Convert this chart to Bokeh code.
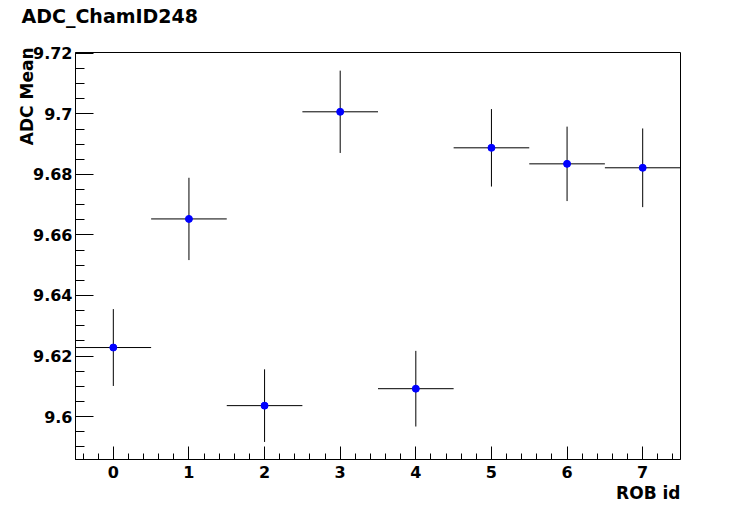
from bokeh.plotting import figure
from bokeh.models import (Title, Range1d, SingleIntervalTicker,
                          NumeralTickFormatter, ColumnDataSource)
from bokeh.embed import file_html
from bokeh.resources import INLINE

# ---- data ----
rob_id = [0, 1, 2, 3, 4, 5, 6, 7]
adc_mean = [9.6228, 9.6653, 9.6036, 9.7007, 9.6092, 9.6888, 9.6835, 9.6822]
adc_err = [0.0127, 0.0136, 0.0120, 0.0136, 0.0125, 0.0128, 0.0123, 0.0130]
bin_half_width = [0.5, 0.5, 0.5, 0.5, 0.5, 0.5, 0.5, 0.5]

title_text = "ADC_ChamID248"
x_label = "ROB id"
y_label = "ADC Mean"

FONT = "DejaVu Sans"

src = ColumnDataSource(dict(
    x=rob_id,
    y=adc_mean,
    x0=[x - h for x, h in zip(rob_id, bin_half_width)],
    x1=[x + h for x, h in zip(rob_id, bin_half_width)],
    y0=[y - e for y, e in zip(adc_mean, adc_err)],
    y1=[y + e for y, e in zip(adc_mean, adc_err)],
))

p = figure(width=740, height=505, output_backend="svg", toolbar_location=None,
           title=None,
           x_range=Range1d(-0.5, 7.5), y_range=Range1d(9.5858, 9.7203),
           min_border_left=75, min_border_right=60,
           min_border_top=52, min_border_bottom=46)

p.background_fill_color = "white"
p.border_fill_color = "white"
p.outline_line_color = "black"
p.outline_line_width = 1
p.xgrid.grid_line_color = None
p.ygrid.grid_line_color = None

# x axis
p.xaxis.ticker = SingleIntervalTicker(interval=1, num_minor_ticks=5)
p.xaxis.major_tick_in = 13
p.xaxis.major_tick_out = 0
p.xaxis.minor_tick_in = 6
p.xaxis.minor_tick_out = 0
p.xaxis.major_label_standoff = 6

# y axis
p.yaxis.ticker = SingleIntervalTicker(interval=0.02, num_minor_ticks=4)
p.yaxis.formatter = NumeralTickFormatter(format="0.0[0]")
p.yaxis.major_tick_in = 18
p.yaxis.major_tick_out = 0
p.yaxis.minor_tick_in = 9
p.yaxis.minor_tick_out = 0
p.yaxis.major_label_standoff = 3

for ax in (p.xaxis, p.yaxis):
    ax.axis_line_color = "black"
    ax.major_tick_line_color = "black"
    ax.minor_tick_line_color = "black"
    ax.major_label_text_font = FONT
    ax.major_label_text_font_style = "bold"
    ax.major_label_text_font_size = "16px"
    ax.major_label_text_color = "black"

# error bars
p.segment(x0="x0", y0="y", x1="x1", y1="y", source=src, line_color="black", line_width=1)
p.segment(x0="x", y0="y0", x1="x", y1="y1", source=src, line_color="black", line_width=1)
# markers
p.scatter(x="x", y="y", source=src, marker="circle", size=7,
          fill_color="#0000ff", line_color="#0000ff")

# texts as titles in the side panels (an empty spacer lifts the main title)
p.add_layout(Title(text=" ", standoff=0, text_font=FONT, text_font_size="19px"), "above")
p.add_layout(Title(text=title_text, align="left", offset=-54, standoff=4,
                   text_font=FONT, text_font_style="bold", text_font_size="19px",
                   text_color="black"), "above")
p.add_layout(Title(text=y_label, align="right", offset=-5, standoff=-12,
                   text_font=FONT, text_font_style="bold", text_font_size="17px",
                   text_color="black"), "left")
p.add_layout(Title(text=x_label, align="right", offset=0, standoff=0,
                   text_font=FONT, text_font_style="bold", text_font_size="17px",
                   text_color="black"), "below")

open("out.html", "w").write(file_html(p, INLINE))
